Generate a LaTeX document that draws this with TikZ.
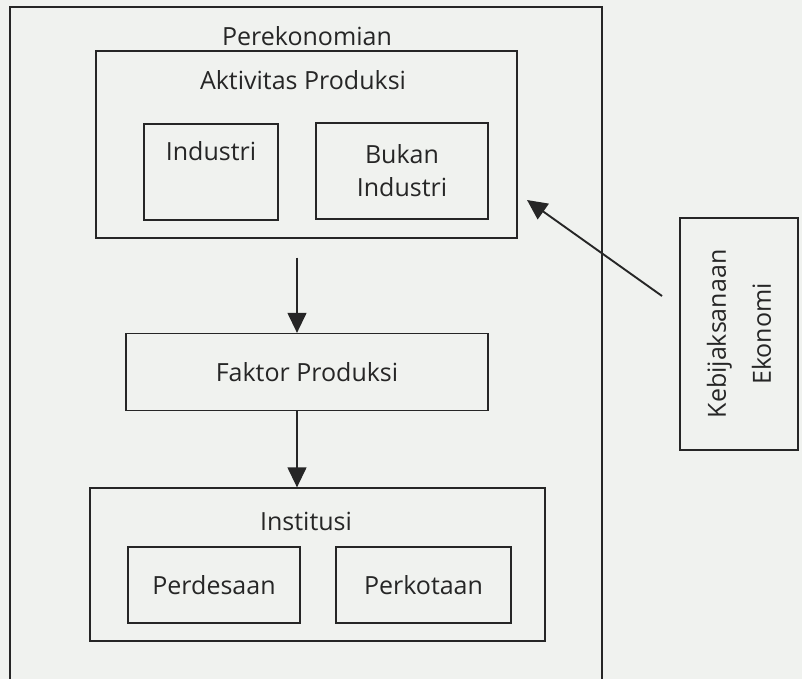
\documentclass[tikz,border=0pt]{standalone}
\usepackage{fontspec}
\setmainfont{Open Sans}
\usetikzlibrary{arrows.meta,positioning}
\definecolor{paper}{RGB}{240,242,239}
\definecolor{ink}{RGB}{38,38,38}

\begin{document}
\begin{tikzpicture}[x=1pt, y=-1pt,
    font=\fontsize{25}{33}\selectfont,
    box/.style={draw=ink, line width=1.3pt, inner sep=0pt, align=center, text=ink},
    arr/.style={draw=ink, line width=1.3pt, -{Triangle[length=20pt, width=19pt]}}]
  \fill [paper] (0,0) rectangle (802,679);
  \useasboundingbox (0,0) rectangle (802,679);

  \draw [ink, line width=1.3pt] (10,679) -- (10,7) -- (602,7) -- (602,679);
  \node [text=ink] (perek) at (307,36) {Perekonomian};

  \node [box, minimum width=421pt, minimum height=187pt] (aktiv) at (306.5,144.5) {};
  \node [text=ink] (aktivlbl) at (303,80) {Aktivitas Produksi};
  \node [box, minimum width=134pt, minimum height=96pt] (ind) at (211,172) {Industri\\ \strut};
  \node [box, minimum width=172pt, minimum height=96pt] (bukan) at (402,171) {Bukan\\Industri};

  \node [box, minimum width=362pt, minimum height=77pt] (faktor) at (307,372) {Faktor Produksi};

  \node [box, minimum width=455pt, minimum height=153pt] (inst) at (317.5,564.5) {};
  \node [text=ink] (instlbl) at (306,521) {Institusi};
  \node [box, minimum width=172pt, minimum height=76pt] (desa) at (214,585) {Perdesaan};
  \node [box, minimum width=175pt, minimum height=76pt] (kota) at (423.5,585) {Perkotaan};

  \node [box, rotate=90, minimum width=232pt, minimum height=118pt] (kebij) at (739,334)
    {Kebijaksanaan\\[12pt]Ekonomi};

  \draw [arr] ([xshift=-9.5pt, yshift=-19pt]aktiv.south) -- ([xshift=-10pt]faktor.north);
  \draw [arr] ([xshift=-10pt]faktor.south) -- ([xshift=-10pt]faktor.south |- inst.north);

  \coordinate (kebtail) at (662,296);
  \coordinate (kebtip) at (527,200);
  \draw [arr, line width=1.9pt] (kebtail) -- (kebtip);
\end{tikzpicture}
\end{document}
